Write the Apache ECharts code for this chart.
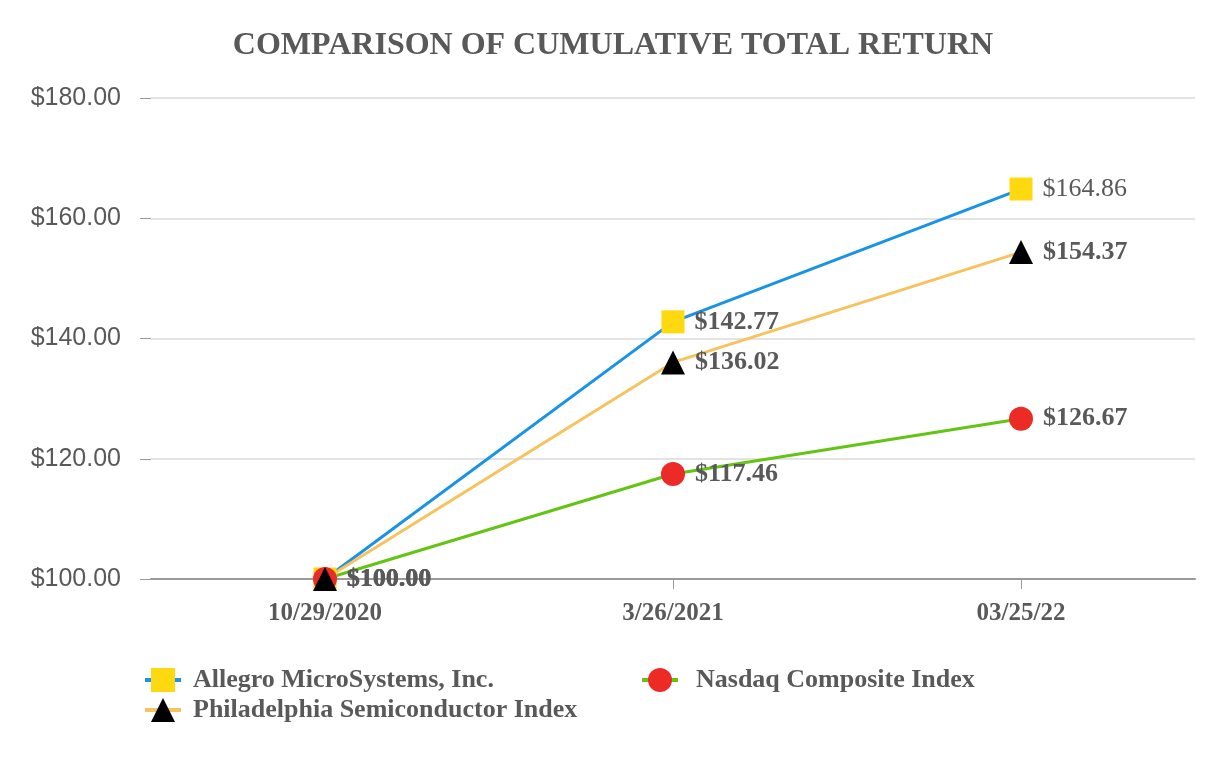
<!DOCTYPE html>
<html>
<head>
<meta charset="utf-8">
<script src="https://cdn.jsdelivr.net/npm/echarts@6/dist/echarts.min.js"></script>
<style>html,body{margin:0;padding:0;background:#fff}#c{width:1226px;height:760px}</style>
</head>
<body>
<div id="c"></div>
<script>
const categories = ['10/29/2020', '3/26/2021', '03/25/22'];
const allegro = [100.00, 142.77, 164.86];
const nasdaq = [100.00, 117.46, 126.67];
const sox = [100.00, 136.02, 154.37];
const seriesNames = ['Allegro MicroSystems, Inc.', 'Nasdaq Composite Index', 'Philadelphia Semiconductor Index'];

const txt = '#595959';
const serif = '"Liberation Serif", "Times New Roman", serif';
const labelBase = {
  show: true, position: 'right', distance: 10,
  formatter: p => '$' + p.value.toFixed(2),
  fontFamily: serif, fontSize: 26, fontWeight: 'bold', color: txt
};
function mkData(arr, normalIdx) {
  return arr.map((v, i) => (i === normalIdx ? { value: v, label: { fontWeight: 'normal' } } : v));
}
function legendCfg(names, left, textPad) {
  return {
    data: names, left: left, orient: 'vertical', top: 662,
    itemWidth: 36, itemHeight: 30, itemGap: 4,
    lineStyle: { width: 4 },
    textStyle: { fontFamily: serif, fontSize: 26, fontWeight: 'bold', color: txt, padding: [0, 0, 0, textPad] }
  };
}
const chart = echarts.init(document.getElementById('c'));
chart.setOption({
  animation: false,
  title: {
    text: 'COMPARISON OF CUMULATIVE TOTAL RETURN',
    left: 'center', top: 25,
    textStyle: { fontFamily: serif, fontSize: 32, fontWeight: 'bold', color: txt }
  },
  grid: { left: 151, right: 31, top: 98, bottom: 181 },
  legend: [
    legendCfg([seriesNames[0], seriesNames[2]], 138, 7),
    legendCfg([seriesNames[1]], 635, 13)
  ],
  xAxis: {
    type: 'category', data: categories, boundaryGap: true,
    axisLine: { lineStyle: { color: '#9a9a9a', width: 2 } },
    axisTick: { show: true, alignWithLabel: true, length: 10, lineStyle: { color: '#9a9a9a', width: 1 } },
    axisLabel: { margin: 22, fontFamily: serif, fontSize: 25, fontWeight: 'bold', color: txt }
  },
  yAxis: {
    type: 'value', min: 100, max: 180, interval: 20,
    axisLine: { show: false },
    axisTick: { show: true, length: 11, lineStyle: { color: '#9a9a9a', width: 1 } },
    splitLine: { lineStyle: { color: '#e3e3e3', width: 2 } },
    axisLabel: {
      margin: 30, fontFamily: '"Liberation Sans", Arial, sans-serif', fontSize: 25, color: txt,
      formatter: v => '$' + v.toFixed(2)
    }
  },
  series: [
    {
      name: seriesNames[0], type: 'line', data: mkData(allegro, 2),
      symbol: 'rect', symbolSize: 23,
      lineStyle: { color: '#1893E6', width: 3 },
      itemStyle: { color: '#FFD90F' },
      label: labelBase
    },
    {
      name: seriesNames[1], type: 'line', data: nasdaq,
      symbol: 'circle', symbolSize: 24,
      lineStyle: { color: '#63C414', width: 3 },
      itemStyle: { color: '#EC2A26' },
      label: labelBase
    },
    {
      name: seriesNames[2], type: 'line', data: sox,
      symbol: 'triangle', symbolSize: 24,
      lineStyle: { color: '#F6C35E', width: 3 },
      itemStyle: { color: '#000000' },
      label: labelBase
    }
  ]
});
</script>
</body>
</html>
